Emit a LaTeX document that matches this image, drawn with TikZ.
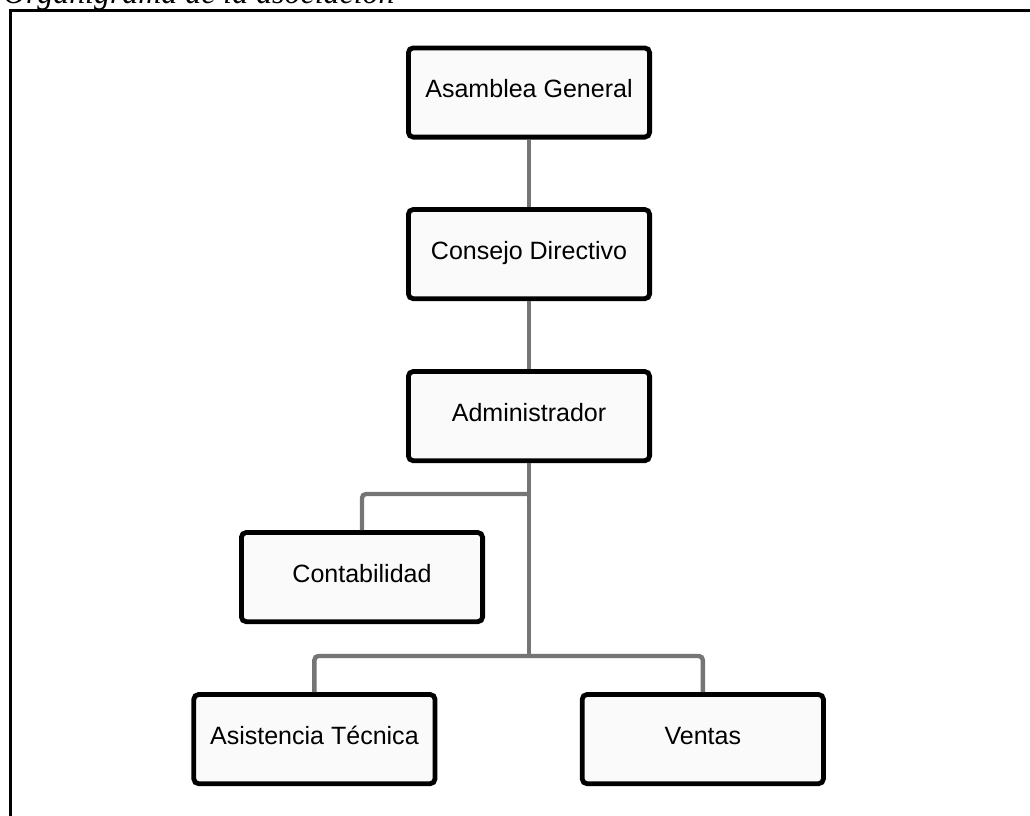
\documentclass[tikz,border=0pt]{standalone}
\usepackage{fontspec}
\setsansfont{Liberation Sans}
\setmainfont{Liberation Serif}
\usepackage{tikz}

\tikzset{
  box/.style={draw=black, line width=0.12cm, rounded corners=0.12cm, fill=white!98!black,
    minimum width=6.03cm, minimum height=2.23cm, inner sep=0pt,
    text height=0.45cm, text depth=0.2cm,
    font=\sffamily\fontsize{17.8pt}{20pt}\selectfont},
  conn/.style={draw=black!54, line width=0.11cm, rounded corners=0.1cm}
}

\begin{document}
\begin{tikzpicture}
      \useasboundingbox (0,0) rectangle (25.75,-20.375);
      \node[anchor=base west, inner sep=0pt, font=\itshape\fontsize{22.7pt}{26pt}\selectfont] (0) at (0.07,-0.075) {Organigrama de la asociación};
      \draw[line width=0.08cm] (0.2625,-21) -- (0.2625,-0.2625) -- (26.5,-0.2625);

      \node[box] (1) at (13.225,-2.3125) {Asamblea General};
      \node[box, below of=1, yshift=-3.04cm] (2) {Consejo Directivo};
      \node[box, below of=2, yshift=-3.05cm] (3) {Administrador};
      \node[box, below of=3, yshift=-3.025cm, xshift=-4.175cm] (4) {Contabilidad};
      \node[box, below of=4, yshift=-3.05cm, xshift=-1.19cm] (5) {Asistencia Técnica};
      \node[box, right of=5, xshift=8.71cm] (6) {Ventas};

      \coordinate (a) at (3.south |- 0,-12.35);
      \coordinate (b) at (3.south |- 0,-16.4);

      \draw[conn] (1) -- (2);
      \draw[conn] (2) -- (3);
      \draw[conn] (3) -- (b);
      \draw[conn] (a) -| (4);
      \draw[conn] (b) -| (5);
      \draw[conn] (b) -| (6);
    \end{tikzpicture}
\end{document}
